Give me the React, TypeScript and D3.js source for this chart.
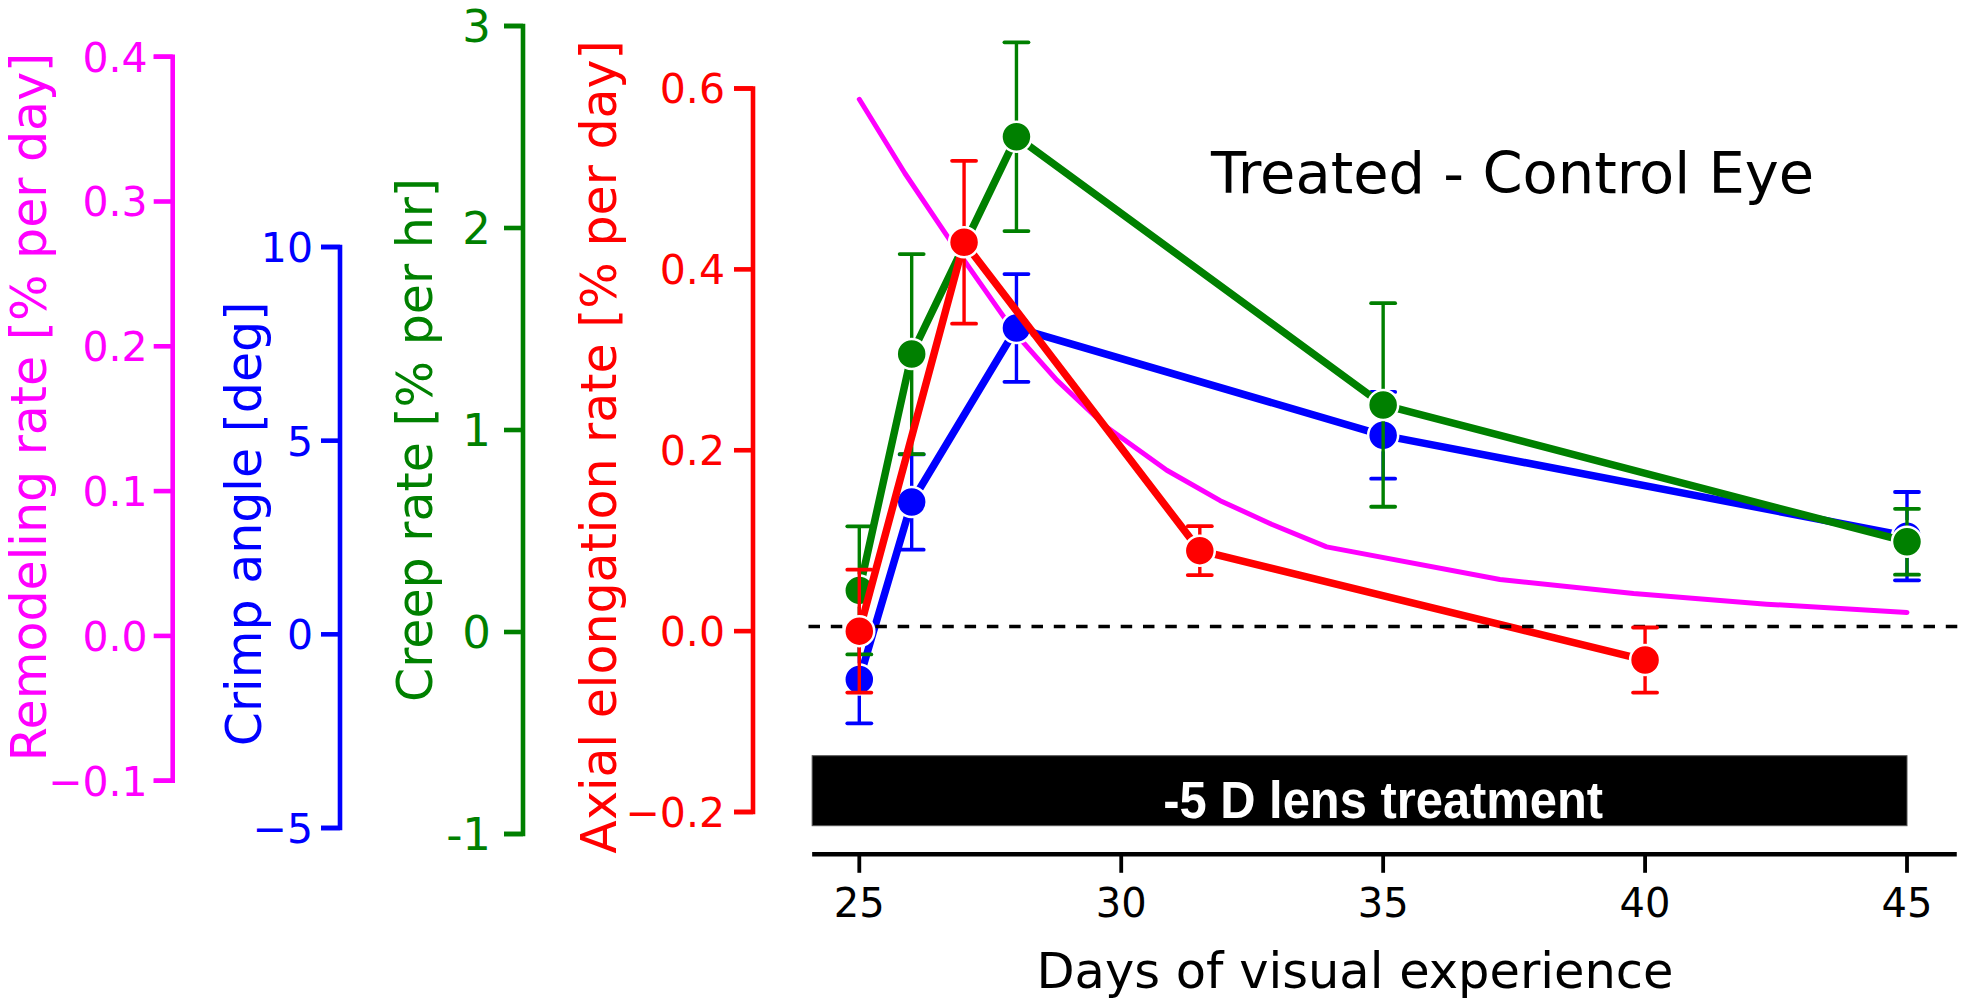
import React from "react";
import * as d3 from "d3";

const W = 1965;
const H = 1005;
const FONT = "DejaVu Sans";

// Axial elongation rate [% per day] (red)
const axialDays = [25, 27, 31.5, 40];
const axialRate = [0.0, 0.43, 0.089, -0.032];
const axialErr = [0.068, 0.09, 0.027, 0.036];

// Creep rate [% per hr] (green)
const creepDays = [25, 26, 28, 35, 45];
const creepRate = [0.206, 1.376, 2.452, 1.124, 0.447];
const creepErr = [0.317, 0.495, 0.467, 0.504, 0.163];

// Crimp angle [deg] (blue)
const crimpDays = [25, 26, 28, 35, 45];
const crimpAngle = [-1.167, 3.416, 7.91, 5.138, 2.535];
const crimpErr = [1.13, 1.23, 1.39, 1.12, 1.14];

// Remodeling rate [% per day] (magenta model curve)
const remodelDays = [25, 25.87, 26.73, 27.99, 28.77, 29.72, 30.87, 31.89, 32.87, 33.92, 37.23, 39.78, 42.32, 45.0];
const remodelRate = [0.3706, 0.3195, 0.2733, 0.2084, 0.1766, 0.1443, 0.1144, 0.0934, 0.0771, 0.0615, 0.039, 0.0293, 0.0219, 0.0162];

const remodelTicks = [-0.1, 0, 0.1, 0.2, 0.3, 0.4];
const crimpTicks = [-5, 0, 5, 10];
const creepTicks = [-1, 0, 1, 2, 3];
const axialTicks = [-0.2, 0, 0.2, 0.4, 0.6];
const dayTicks = [25, 30, 35, 40, 45];

const refLineAxial = 0.005;
const frameDays = [24.1, 45.95];
const dashDays = [24.03, 46.0];
const lensDays = [24.1, 45.0];
const lensTextDay = 35;

const COLORS = {
  remodel: "#ff00ff",
  crimp: "#0000ff",
  creep: "#008000",
  axial: "#ff0000",
};

const x = d3.scaleLinear().domain([25, 45]).range([859.3, 1907]);
const yRemodel = d3.scaleLinear().domain([-0.1, 0.4]).range([780.7, 56.7]);
const yCrimp = d3.scaleLinear().domain([-5, 10]).range([828, 247]);
const yCreep = d3.scaleLinear().domain([-1, 3]).range([834, 26]);
const yAxial = d3.scaleLinear().domain([-0.2, 0.6]).range([812, 88.5]);

const minus = (s: string) => s.replace("-", "\u2212");

function YAxis(props: {
  scale: d3.ScaleLinear<number, number>;
  xPos: number;
  ticks: number[];
  fmt: (v: number) => string;
  color: string;
  fontSize: number;
  pad: number;
  label: string;
  labelX: number;
  labelY: number;
}) {
  const { scale, xPos, ticks, fmt, color, fontSize, pad, label, labelX, labelY } = props;
  const t = 19;
  const [d0, d1] = scale.domain();
  const y0 = scale(d0);
  const y1 = scale(d1);
  return (
    <g>
      <path
        d={`M${xPos - t},${y0}H${xPos}V${y1}H${xPos - t}`}
        fill="none"
        stroke={color}
        strokeWidth={4.6}
      />
      {ticks.map((v) => (
        <g key={v}>
          <line x1={xPos - t} x2={xPos} y1={scale(v)} y2={scale(v)} stroke={color} strokeWidth={4.6} />
          <text
            x={xPos - pad}
            y={scale(v)}
            dy="0.365em"
            textAnchor="end"
            fill={color}
            fontSize={fontSize}
            fontFamily={FONT}
          >
            {fmt(v)}
          </text>
        </g>
      ))}
      <text
        transform={`translate(${labelX},${labelY}) rotate(-90)`}
        textAnchor="middle"
        fill={color}
        fontSize={49}
        fontFamily={FONT}
      >
        {label}
      </text>
    </g>
  );
}

function SeriesLine(props: { days: number[]; vals: number[]; y: d3.ScaleLinear<number, number>; color: string; width: number }) {
  const { days, vals, y, color, width } = props;
  const line = d3
    .line<number>()
    .x((_, i) => x(days[i]))
    .y((v) => y(v));
  return (
    <path
      d={line(vals) || ""}
      fill="none"
      stroke={color}
      strokeWidth={width}
      strokeLinejoin="round"
      strokeLinecap="round"
    />
  );
}

function SeriesPoints(props: { days: number[]; vals: number[]; errs: number[]; y: d3.ScaleLinear<number, number>; color: string }) {
  const { days, vals, errs, y, color } = props;
  const cw = 12;
  return (
    <g>
      {vals.map((v, i) => {
        const cx = x(days[i]);
        const yt = y(v + errs[i]);
        const yb = y(v - errs[i]);
        return (
          <g key={"e" + i}>
            <line x1={cx} x2={cx} y1={yt} y2={yb} stroke={color} strokeWidth={3.4} />
            <line x1={cx - cw} x2={cx + cw} y1={yt} y2={yt} stroke={color} strokeWidth={3.8} strokeLinecap="round" />
            <line x1={cx - cw} x2={cx + cw} y1={yb} y2={yb} stroke={color} strokeWidth={3.8} strokeLinecap="round" />
          </g>
        );
      })}
      {vals.map((v, i) => (
        <circle key={"m" + i} cx={x(days[i])} cy={y(v)} r={15} fill={color} stroke="#ffffff" strokeWidth={2.5} />
      ))}
    </g>
  );
}

export default function App() {
  const axisY = 854.3;
  const barTop = 755.7;
  const barBottom = 825.7;
  return (
    <svg
      width={W}
      height={H}
      viewBox={`0 0 ${W} ${H}`}
      style={{ position: "absolute", left: 0, top: 0, display: "block", background: "#ffffff" }}
    >
      <rect x={0} y={0} width={W} height={H} fill="#ffffff" />

      <YAxis
        scale={yRemodel}
        xPos={172.7}
        ticks={remodelTicks}
        fmt={(v) => minus(d3.format(".1f")(v))}
        color={COLORS.remodel}
        fontSize={41}
        pad={25}
        label="Remodeling rate [% per day]"
        labelX={45.5}
        labelY={407}
      />
      <YAxis
        scale={yCrimp}
        xPos={340}
        ticks={crimpTicks}
        fmt={(v) => minus(d3.format("d")(v))}
        color={COLORS.crimp}
        fontSize={41}
        pad={27}
        label="Crimp angle [deg]"
        labelX={261}
        labelY={524}
      />
      <YAxis
        scale={yCreep}
        xPos={523}
        ticks={creepTicks}
        fmt={(v) => (v < 0 ? "-" + Math.abs(v) : String(v))}
        color={COLORS.creep}
        fontSize={45}
        pad={32}
        label="Creep rate [% per hr]"
        labelX={432}
        labelY={440}
      />
      <YAxis
        scale={yAxial}
        xPos={753}
        ticks={axialTicks}
        fmt={(v) => minus(d3.format(".1f")(v))}
        color={COLORS.axial}
        fontSize={41}
        pad={28}
        label="Axial elongation rate [% per day]"
        labelX={616}
        labelY={447}
      />

      {/* lens treatment bar */}
      <rect
        x={x(lensDays[0])}
        y={barTop}
        width={x(lensDays[1]) - x(lensDays[0])}
        height={barBottom - barTop}
        fill="#000000"
        stroke="#555555"
        strokeWidth={1}
      />
      <text
        x={x(lensTextDay)}
        y={818}
        textAnchor="middle"
        fill="#ffffff"
        fontSize={51}
        fontWeight="bold"
        fontFamily="Liberation Sans, Arial, sans-serif"
        textLength={440}
        lengthAdjust="spacingAndGlyphs"
      >
        -5 D lens treatment
      </text>

      {/* x axis */}
      <line x1={x(frameDays[0])} x2={x(frameDays[1])} y1={axisY} y2={axisY} stroke="#000" strokeWidth={4.6} />
      {dayTicks.map((d) => (
        <g key={d}>
          <line x1={x(d)} x2={x(d)} y1={axisY} y2={axisY + 18.5} stroke="#000" strokeWidth={3.8} />
          <text x={x(d)} y={916.7} textAnchor="middle" fontSize={40} fontFamily={FONT} fill="#000">
            {d}
          </text>
        </g>
      ))}
      <text x={1355} y={988} textAnchor="middle" fontSize={49.5} fontFamily={FONT} fill="#000">
        Days of visual experience
      </text>

      {/* title */}
      <text x={1211} y={193} fontSize={57.5} fontFamily={FONT} fill="#000">
        Treated - Control Eye
      </text>

      {/* data */}
      <SeriesLine days={remodelDays} vals={remodelRate} y={yRemodel} color={COLORS.remodel} width={5} />

      <SeriesLine days={crimpDays} vals={crimpAngle} y={yCrimp} color={COLORS.crimp} width={7.5} />
      <SeriesPoints days={crimpDays} vals={crimpAngle} errs={crimpErr} y={yCrimp} color={COLORS.crimp} />

      <SeriesLine days={creepDays} vals={creepRate} y={yCreep} color={COLORS.creep} width={7.5} />
      <SeriesPoints days={creepDays} vals={creepRate} errs={creepErr} y={yCreep} color={COLORS.creep} />

      <SeriesLine days={axialDays} vals={axialRate} y={yAxial} color={COLORS.axial} width={7.5} />

      <line
        x1={x(dashDays[0])}
        x2={x(dashDays[1])}
        y1={yAxial(refLineAxial)}
        y2={yAxial(refLineAxial)}
        stroke="#000"
        strokeWidth={3.5}
        strokeDasharray="11.5,10.8"
      />

      <SeriesPoints days={axialDays} vals={axialRate} errs={axialErr} y={yAxial} color={COLORS.axial} />
    </svg>
  );
}
